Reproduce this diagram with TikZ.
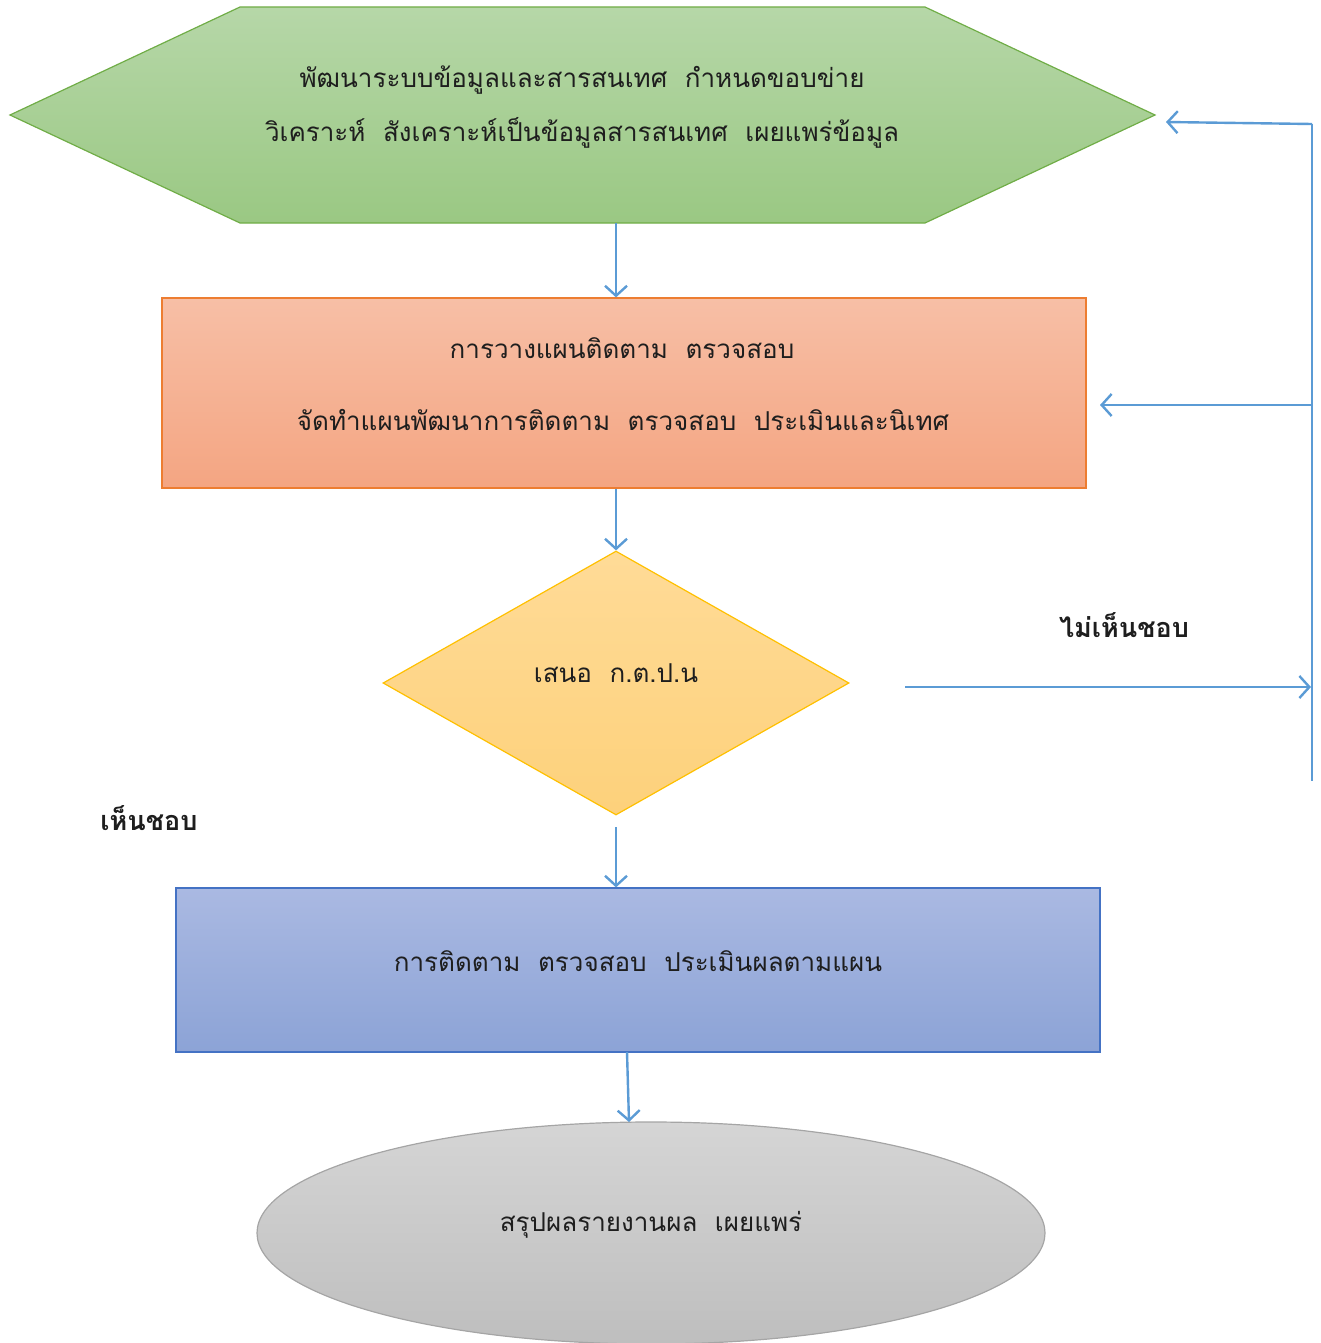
\documentclass[tikz,border=0pt]{standalone}
\usepackage{fontspec}
\newfontfamily\thai[Script=Thai]{Loma}
\usetikzlibrary{shapes.geometric,arrows.meta}

\definecolor{link}{HTML}{5B9BD5}
\definecolor{ink}{HTML}{1E1E1E}
\definecolor{gtop}{HTML}{B6D7A8}
\definecolor{gbot}{HTML}{9AC883}
\definecolor{gline}{HTML}{70AD47}
\definecolor{otop}{HTML}{F7BFA6}
\definecolor{obot}{HTML}{F4A582}
\definecolor{oline}{HTML}{ED7D31}
\definecolor{ytop}{HTML}{FFDB97}
\definecolor{ybot}{HTML}{FDD17B}
\definecolor{yline}{HTML}{FFC000}
\definecolor{btop}{HTML}{AAB9E2}
\definecolor{bbot}{HTML}{8CA3D6}
\definecolor{bline}{HTML}{4472C4}
\definecolor{stop}{HTML}{D5D5D5}
\definecolor{sbot}{HTML}{BEBEBE}
\definecolor{sline}{HTML}{A5A5A5}

\tikzset{
  boxtext/.style={font=\thai\fontsize{26}{36}\selectfont, text=ink, align=center},
  flow/.style={draw=link, line width=2.4pt, -{Straight Barb[length=10pt,width=22pt,line width=2.4pt]}},
  rule/.style={draw=link, line width=2.4pt},
  tag/.style={font=\thai\bfseries\fontsize{27}{32}\selectfont, text=ink},
}

\begin{document}
\begin{tikzpicture}[x=1pt,y=-1pt]
\useasboundingbox (0,0) rectangle (1321,1343);

% hexagon: develop the information system
\coordinate (hw) at (10,115);
\coordinate (he) at (1155,115);
\coordinate (hs) at (616,223);
\path[top color=gtop, bottom color=gbot, draw=gline, line width=1.2pt]
  (hw) -- (240,7) -- (925,7) -- (he) -- (925,223) -- (240,223) -- cycle;
\node[boxtext] (info1) at (582,80) {พัฒนาระบบข้อมูลและสารสนเทศ\ \ กำหนดขอบข่าย};
\node[boxtext] (info2) at (582,133) {วิเคราะห์\ \ สังเคราะห์เป็นข้อมูลสารสนเทศ\ \ เผยแพร่ข้อมูล};

% planning box
\node[draw=oline, line width=1.2pt, top color=otop, bottom color=obot,
      minimum width=924pt, minimum height=190pt, inner sep=0pt] (plan) at (624,393) {};
\node[boxtext] (plan1) at (622,348) {การวางแผนติดตาม\ \ ตรวจสอบ};
\node[boxtext] (plan2) at (623,420) {จัดทำแผนพัฒนาการติดตาม\ \ ตรวจสอบ\ \ ประเมินและนิเทศ};

% decision
\node[diamond, draw=yline, line width=1.2pt, top color=ytop, bottom color=ybot,
      minimum width=466pt, minimum height=264pt, inner sep=0pt] (vote) at (616,683) {};
\node[boxtext] (vote1) at (616,673) {เสนอ\ \ ก.ต.ป.น};

% monitoring box
\node[draw=bline, line width=1.2pt, top color=btop, bottom color=bbot,
      minimum width=924pt, minimum height=164pt, inner sep=0pt] (check) at (638,970) {};
\node[boxtext] (check1) at (638,961) {การติดตาม\ \ ตรวจสอบ\ \ ประเมินผลตามแผน};

% summary ellipse
\node[ellipse, draw=sline, line width=1.2pt, top color=stop, bottom color=sbot,
      minimum width=788pt, minimum height=222pt, inner sep=0pt] (sum) at (651,1233) {};
\node[boxtext] (sum1) at (651,1225) {สรุปผลรายงานผล\ \ เผยแพร่};

% labels
\node[tag] (no) at (1124,625) {ไม่เห็นชอบ};
\node[tag] (yes) at (149,818) {เห็นชอบ};

% main flow
\draw[flow] (hs) -- (hs |- plan.north);
\draw[flow] (hs |- plan.south) -- (vote.north);
\coordinate (vs) at (616,827);
\draw[flow] (vs) -- (vs |- check.north);
\coordinate (cs) at (627,1052);
\coordinate (et) at (629,1122);
\draw[flow] (cs) -- (et);

% feedback loop
\coordinate (rtop) at (1312,124);
\coordinate (rmid) at (1312,405);
\coordinate (rhit) at (1311,687);
\coordinate (rbot) at (1312,781);
\coordinate (nstart) at (905,687);
\coordinate (hin) at (1166,122);
\coordinate (pin) at (1100,405);
\draw[rule] (rtop) -- (rbot);
\draw[flow] (rtop) -- (hin);
\draw[flow] (rmid) -- (pin);
\draw[flow] (nstart) -- (rhit);
\end{tikzpicture}
\end{document}
